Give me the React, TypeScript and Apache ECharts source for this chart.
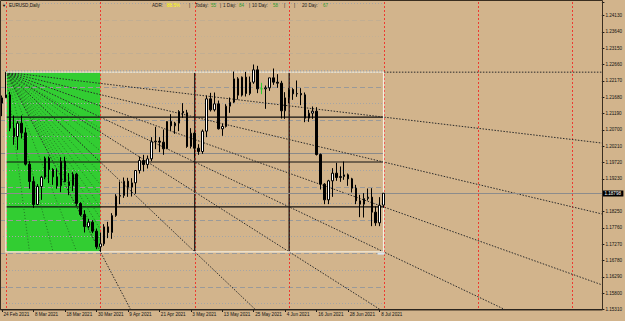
import React, { useEffect, useRef } from "react";
import * as echarts from "echarts";

// ---------- data ----------
const dates = [
  "24 Feb 2021", "25 Feb 2021", "26 Feb 2021",
  "1 Mar 2021", "2 Mar 2021", "3 Mar 2021", "4 Mar 2021", "5 Mar 2021", "8 Mar 2021", "9 Mar 2021", "10 Mar 2021",
  "11 Mar 2021", "12 Mar 2021", "15 Mar 2021", "16 Mar 2021", "17 Mar 2021", "18 Mar 2021", "19 Mar 2021", "22 Mar 2021",
  "23 Mar 2021", "24 Mar 2021", "25 Mar 2021", "26 Mar 2021", "29 Mar 2021", "30 Mar 2021", "31 Mar 2021",
  "1 Apr 2021", "2 Apr 2021", "5 Apr 2021", "6 Apr 2021", "7 Apr 2021", "8 Apr 2021", "9 Apr 2021", "12 Apr 2021",
  "13 Apr 2021", "14 Apr 2021", "15 Apr 2021", "16 Apr 2021", "19 Apr 2021", "20 Apr 2021", "21 Apr 2021", "22 Apr 2021",
  "23 Apr 2021", "26 Apr 2021", "27 Apr 2021", "28 Apr 2021", "29 Apr 2021", "30 Apr 2021",
  "3 May 2021", "4 May 2021", "5 May 2021", "6 May 2021", "7 May 2021", "10 May 2021", "11 May 2021", "12 May 2021",
  "13 May 2021", "14 May 2021", "17 May 2021", "18 May 2021", "19 May 2021", "20 May 2021", "21 May 2021", "24 May 2021",
  "25 May 2021", "26 May 2021", "27 May 2021", "28 May 2021", "31 May 2021",
  "1 Jun 2021", "2 Jun 2021", "3 Jun 2021", "4 Jun 2021", "7 Jun 2021", "8 Jun 2021", "9 Jun 2021", "10 Jun 2021",
  "11 Jun 2021", "14 Jun 2021", "15 Jun 2021", "16 Jun 2021", "17 Jun 2021", "18 Jun 2021", "21 Jun 2021", "22 Jun 2021",
  "23 Jun 2021", "24 Jun 2021", "25 Jun 2021", "28 Jun 2021", "29 Jun 2021", "30 Jun 2021",
  "1 Jul 2021", "2 Jul 2021", "5 Jul 2021", "6 Jul 2021", "7 Jul 2021", "8 Jul 2021", "9 Jul 2021",
];

const opens = [
  1.2150, 1.2166, 1.2175,
  1.2075, 1.2050, 1.2090, 1.2061, 1.1967, 1.1915, 1.1846, 1.1900, 1.1928, 1.1985, 1.1951, 1.1929, 1.1902, 1.1976, 1.1914,
  1.1903, 1.1937, 1.1849, 1.1816, 1.1780, 1.1793, 1.1766, 1.1719,
  1.1728, 1.1779, 1.1762, 1.1813, 1.1871, 1.1873, 1.1916, 1.1898, 1.1911, 1.1948, 1.1978, 1.1966, 1.1983, 1.2034, 1.2036,
  1.2033, 1.2013, 1.2095, 1.2082, 1.2090, 1.2125, 1.2121,
  1.2020, 1.2060, 1.2015, 1.2005, 1.2066, 1.2163, 1.2130, 1.2148, 1.2073, 1.2080, 1.2141, 1.2153, 1.2223, 1.2174, 1.2228,
  1.2179, 1.2213, 1.2250, 1.2193, 1.2193, 1.2196,
  1.2226, 1.2213, 1.2210, 1.2127, 1.2166, 1.2191, 1.2178, 1.2179, 1.2175, 1.2105, 1.2120, 1.2126, 1.1996, 1.1907, 1.1860,
  1.1917, 1.1940, 1.1927, 1.1930, 1.1935, 1.1923, 1.1895,
  1.1857, 1.1847, 1.1864, 1.1868, 1.1823, 1.1791, 1.1844,
];
const highs = [
  1.2173, 1.2243, 1.2184,
  1.2113, 1.2096, 1.2113, 1.2077, 1.1976, 1.1930, 1.1907, 1.1932, 1.1990, 1.1990, 1.1955, 1.1952, 1.1988, 1.1989, 1.1940,
  1.1943, 1.1941, 1.1853, 1.1829, 1.1803, 1.1799, 1.1774, 1.1762,
  1.1787, 1.1794, 1.1820, 1.1877, 1.1915, 1.1927, 1.1926, 1.1925, 1.1949, 1.1990, 1.1995, 1.1993, 1.2048, 1.2079, 1.2048,
  1.2071, 1.2096, 1.2117, 1.2094, 1.2129, 1.2150, 1.2130,
  1.2075, 1.2064, 1.2027, 1.2071, 1.2173, 1.2181, 1.2182, 1.2158, 1.2088, 1.2147, 1.2167, 1.2245, 1.2228, 1.2230, 1.2244,
  1.2230, 1.2266, 1.2262, 1.2211, 1.2203, 1.2226,
  1.2254, 1.2237, 1.2217, 1.2183, 1.2195, 1.2195, 1.2218, 1.2195, 1.2182, 1.2130, 1.2140, 1.2138, 1.1999, 1.1910, 1.1920,
  1.1955, 1.1971, 1.1960, 1.1975, 1.1939, 1.1926, 1.1905,
  1.1875, 1.1880, 1.1894, 1.1895, 1.1840, 1.1868, 1.1880,
];
const lows = [
  1.2111, 1.2166, 1.2066,
  1.2025, 1.2010, 1.2044, 1.1963, 1.1893, 1.1836, 1.1844, 1.1860, 1.1922, 1.1910, 1.1905, 1.1893, 1.1883, 1.1913, 1.1874,
  1.1886, 1.1842, 1.1811, 1.1762, 1.1774, 1.1760, 1.1712, 1.1704,
  1.1722, 1.1745, 1.1743, 1.1809, 1.1847, 1.1866, 1.1869, 1.1870, 1.1878, 1.1939, 1.1945, 1.1954, 1.1976, 1.2012, 1.2003,
  1.1995, 1.2013, 1.2067, 1.2058, 1.2066, 1.2106, 1.2016,
  1.2014, 1.1986, 1.1995, 1.1998, 1.2048, 1.2125, 1.2125, 1.2071, 1.2052, 1.2077, 1.2121, 1.2150, 1.2161, 1.2170, 1.2170,
  1.2174, 1.2208, 1.2180, 1.2177, 1.2133, 1.2187,
  1.2205, 1.2196, 1.2104, 1.2103, 1.2150, 1.2160, 1.2169, 1.2144, 1.2093, 1.2094, 1.2103, 1.1993, 1.1891, 1.1847, 1.1847,
  1.1869, 1.1917, 1.1914, 1.1920, 1.1902, 1.1882, 1.1847,
  1.1808, 1.1807, 1.1858, 1.1781, 1.1782, 1.1781, 1.1836,
];
const closes = [
  1.2166, 1.2175, 1.2075,
  1.2050, 1.2090, 1.2061, 1.1967, 1.1915, 1.1846, 1.1900, 1.1928, 1.1985, 1.1951, 1.1929, 1.1902, 1.1976, 1.1914, 1.1903,
  1.1937, 1.1849, 1.1816, 1.1780, 1.1793, 1.1766, 1.1719, 1.1728,
  1.1779, 1.1762, 1.1813, 1.1871, 1.1873, 1.1916, 1.1898, 1.1911, 1.1948, 1.1978, 1.1966, 1.1983, 1.2034, 1.2036, 1.2033,
  1.2013, 1.2095, 1.2082, 1.2090, 1.2125, 1.2121, 1.2020,
  1.2060, 1.2015, 1.2005, 1.2066, 1.2163, 1.2130, 1.2148, 1.2073, 1.2080, 1.2141, 1.2153, 1.2223, 1.2174, 1.2228, 1.2179,
  1.2213, 1.2250, 1.2193, 1.2193, 1.2196, 1.2226,
  1.2213, 1.2210, 1.2127, 1.2166, 1.2191, 1.2178, 1.2179, 1.2175, 1.2105, 1.2120, 1.2126, 1.1996, 1.1907, 1.1860, 1.1917,
  1.1940, 1.1927, 1.1930, 1.1935, 1.1923, 1.1895, 1.1857,
  1.1847, 1.1864, 1.1868, 1.1823, 1.1791, 1.1844, 1.18798,
];

const yTickLabels = [
  "1.15310", "1.15800", "1.16290", "1.16780", "1.17270", "1.17760", "1.18250", "1.18740", "1.19230", "1.19720",
  "1.20210", "1.20700", "1.21190", "1.21680", "1.22170", "1.22660", "1.23150", "1.23640", "1.24130",
];
const roundLevels = [
  1.155, 1.16, 1.165, 1.17, 1.175, 1.18, 1.185, 1.19, 1.195, 1.2, 1.205, 1.21, 1.215, 1.22, 1.225, 1.23, 1.235, 1.24, 1.245,
];
const currentPrice = 1.18798;
const currentPriceLabel = "1.18798";
const boxHigh = 1.2243;
const boxLow = 1.1704;
const boxStart = 1;
const boxEnd = 97;
const greenEnd = 25;
const cycleBars = [1, 25, 49, 73, 97, 121, 145];
const futureSlots = 55;

const titleText = "EURUSD,Daily";
const adrTexts = ["ADR:", "88.5%", "|", "Today:", "55", "|", "1 Day:", "84", "|", "10 Day:", "58", "|", "|", "20 Day:", "67"];
const adrKinds = ["k", "y", "k", "k", "g", "k", "k", "g", "k", "k", "g", "k", "k", "k", "g"];

// ---------- layout / style ----------
const adrX = [152, 167, 189, 195, 211, 220, 223, 239, 249, 252, 273, 284, 294, 302, 323];
const FONT = "Liberation Sans, Arial, sans-serif";
const FS = 4.6;
const BG = "#D2B48C";
const Y_MIN = 1.1531;
const Y_STEP = 0.0049;

const categories = [...dates, ...Array.from({ length: futureSlots }, (_, i) => `f${i + 1}`)];

function renderOverlay(params: any, api: any) {
  const cs = params.coordSys;
  const L = cs.x, T = cs.y, R = cs.x + cs.width, B = cs.y + cs.height;
  const pt = (i: number, p: number) => api.coord([i, p]) as number[];
  const kids: any[] = [];
  const line = (x1: number, y1: number, x2: number, y2: number, stroke: string, lw: number, dash?: number[]) =>
    kids.push({ type: "line", silent: true, shape: { x1, y1, x2, y2 }, style: { stroke, lineWidth: lw, lineDash: dash, fill: null } });

  const [bx0, byT] = pt(boxStart, boxHigh);
  const [bx1, byB] = pt(boxEnd, boxLow);
  const gx = pt(greenEnd, boxLow)[0];

  // green area
  kids.push({ type: "rect", silent: true, shape: { x: bx0, y: byT, width: gx - bx0, height: byB - byT }, style: { fill: "#32CD32" } });

  // round-number levels
  const xLast = pt(dates.length - 1, boxLow)[0];
  roundLevels.forEach((p) => {
    const y = Math.round(pt(0, p)[1]) + 0.5;
    const isBig = Math.abs(p - 1.2) < 1e-6;
    const isHundred = Math.abs(Math.round(p * 100) - p * 100) < 1e-6;
    const faint = p > boxHigh + 0.001 && p < 1.244;
    if (isBig) line(L, y, xLast, y, "#8A8A8A", 1);
    else if (isHundred) line(L, y, xLast, y, faint ? "#C2AE92" : "#9A9A9A", 1, [5, 3]);
    else line(L, y, xLast, y, faint ? "#C4B094" : "#A5A5A5", 1, [1, 2]);
  });

  // cycle verticals
  cycleBars.forEach((i) => {
    const x = Math.round(pt(i, boxHigh)[0]) + 0.5;
    line(x, T, x, B, "#EE3A30", 1, [2, 2]);
  });

  // box grid (black)
  const range = boxHigh - boxLow;
  const q = range / 4;
  [49, 73].forEach((i) => {
    const x = pt(i, boxHigh)[0];
    line(x, byT, x, byB, "#111111", 1.2);
  });
  [1, 2, 3].forEach((k) => {
    const y = pt(0, boxHigh - k * q)[1];
    line(bx0, y, bx1, y, "#111111", 1.2);
  });

  // fan lines
  const extend = (x0: number, y0: number, x1: number, y1: number) => {
    const dx = x1 - x0, dy = y1 - y0;
    let t = (R - x0) / dx;
    if (dy > 0) t = Math.min(t, (B - y0) / dy);
    return [x0 + dx * t, y0 + dy * t];
  };
  const fanColor = "#2A2A2A";
  line(bx0, byT, R, byT, fanColor, 1, [1.5, 1.5]);
  [1, 2, 3, 4].forEach((k) => {
    const [tx, ty] = pt(boxEnd, boxHigh - k * q);
    const [ex, ey] = extend(bx0, byT, tx, ty);
    line(bx0, byT, ex, ey, fanColor, 1, [1.5, 1.5]);
  });
  [1, 2, 3].forEach((m) => {
    const [tx, ty] = pt(boxStart + 24 * m, boxLow);
    const [ex, ey] = extend(bx0, byT, tx, ty);
    line(bx0, byT, ex, ey, fanColor, 1, [1.5, 1.5]);
  });
  // inner fan inside the green area
  for (let j = 5; j <= 15; j++) {
    const y = byT + ((byB - byT) * j) / 16;
    line(bx0, byT, gx, y, "#1E5E1E", 0.8, [1, 2]);
  }
  [0.25, 0.5, 0.75].forEach((f) => {
    const x = bx0 + (gx - bx0) * f;
    line(bx0, byT, x, byB, "#1E5E1E", 0.8, [1, 2]);
  });

  // box outline
  kids.push({
    type: "rect", silent: true,
    shape: { x: bx0, y: byT, width: bx1 - bx0, height: byB - byT },
    style: { fill: null, stroke: "#F4EEDF", lineWidth: 1.3 },
  });
  kids.push({ type: "rect", silent: true, shape: { x: bx1 - 6, y: byB + 0.8, width: 7, height: 2 }, style: { fill: "#D8E4F0" } });

  // current price line + label
  const py = Math.round(pt(0, currentPrice)[1]) + 0.5;
  line(L, py, R, py, "#8C8C8C", 1);
  kids.push({ type: "rect", silent: true, shape: { x: R + 0.5, y: py - 3, width: 21, height: 6 }, style: { fill: "#000000" } });
  kids.push({
    type: "text", silent: true, x: R + 2.5, y: py,
    style: { text: currentPriceLabel, fill: "#FFFFFF", fontSize: FS, fontFamily: FONT, verticalAlign: "middle", align: "left" },
  });

  return { type: "group", children: kids };
}

export default function App() {
  const ref = useRef<HTMLDivElement>(null);

  useEffect(() => {
    document.body.style.margin = "0";
    const chart = echarts.init(ref.current!, undefined, { renderer: "svg" });

    const candleData = opens.map((o, i) => {
      const v = [o, closes[i], lows[i], highs[i]];
      if (o === closes[i]) {
        return { value: v, itemStyle: { color: "#32CD32", borderColor: "#32CD32" } };
      }
      return v;
    });

    const colorFor = (k: string) => (k === "y" ? "#FFFF00" : k === "g" ? "#2E9A2E" : "#1A1A1A");

    const graphic: any[] = [
      { type: "rect", silent: true, shape: { x: 0.5, y: 0.5, width: 602, height: 309.5 }, style: { fill: null, stroke: "#3A2E20", lineWidth: 1 }, z: 100 },
      { type: "text", silent: true, x: 2, y: 5.5, style: { text: "▼", fontSize: 4, fill: "#000", fontFamily: FONT, verticalAlign: "middle" }, z: 100 },
      { type: "text", silent: true, x: 9, y: 5.5, style: { text: titleText, fontSize: FS, fill: "#111", fontFamily: FONT, verticalAlign: "middle" }, z: 100 },
      ...adrTexts.map((t, i) => ({
        type: "text", silent: true, x: adrX[i], y: 5.5, z: 100,
        style: { text: t, fontSize: FS, fill: colorFor(adrKinds[i]), fontFamily: FONT, verticalAlign: "middle" },
      })),
    ];

    chart.setOption({
      animation: false,
      backgroundColor: BG,
      grid: { left: 0, right: 23, top: 2, bottom: 11.5, containLabel: false },
      xAxis: {
        type: "category",
        data: categories,
        boundaryGap: true,
        axisLine: { show: true, lineStyle: { color: "#1A1A1A", width: 1 } },
        axisTick: {
          show: true, alignWithLabel: true, length: 2.5,
          interval: (i: number) => i % 8 === 0 && i < dates.length,
          lineStyle: { color: "#1A1A1A" },
        },
        axisLabel: {
          show: true,
          interval: (i: number) => i % 8 === 0 && i < dates.length,
          formatter: (_v: string, i: number) => (i < dates.length ? dates[i] : ""),
          align: "left", margin: 2.2, padding: [0, 0, 0, 1.5],
          fontSize: FS, color: "#111", fontFamily: FONT,
        },
        splitLine: { show: false },
      },
      yAxis: {
        type: "value",
        position: "right",
        min: Y_MIN,
        max: 1.24535,
        interval: Y_STEP,
        axisLine: { show: true, lineStyle: { color: "#1A1A1A", width: 1 } },
        axisTick: { show: true, length: 2.5, lineStyle: { color: "#1A1A1A" } },
        axisLabel: {
          margin: 3.5, fontSize: FS, color: "#111", fontFamily: FONT,
          formatter: (v: number) => {
            const k = Math.round((v - Y_MIN) / Y_STEP);
            if (Math.abs(v - (Y_MIN + k * Y_STEP)) > 1e-5) return "";
            if (k === 7) return "";
            return yTickLabels[k] ?? "";
          },
        },
        splitLine: { show: false },
      },
      graphic,
      series: [
        {
          type: "custom",
          renderItem: renderOverlay,
          data: [[0, boxHigh]],
          z: 1,
          silent: true,
          clip: false,
        },
        {
          type: "candlestick",
          data: candleData,
          barWidth: 2,
          z: 3,
          silent: true,
          itemStyle: {
            color: "#FFFFFF", color0: "#000000",
            borderColor: "#000000", borderColor0: "#000000",
            borderWidth: 1,
          },
        },
      ],
    });

    return () => chart.dispose();
  }, []);

  return (
    <div
      ref={ref}
      style={{ position: "fixed", left: 0, top: 0, width: 625, height: 321, background: BG }}
    />
  );
}
